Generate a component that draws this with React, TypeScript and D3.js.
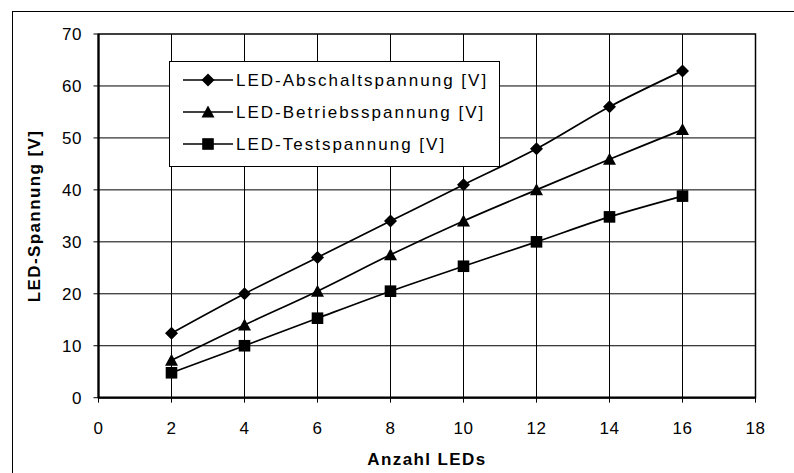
import React from 'react';
import * as d3 from 'd3';

const anzahl = [2, 4, 6, 8, 10, 12, 14, 16];
const abschalt = [12.4, 20, 27, 34, 41, 47.9, 56, 62.9];
const betrieb = [7.2, 14, 20.5, 27.5, 34, 40, 45.9, 51.6];
const test = [4.8, 10, 15.3, 20.5, 25.3, 30, 34.8, 38.8];
const seriesNames = ['LED-Abschaltspannung [V]', 'LED-Betriebsspannung [V]', 'LED-Testspannung [V]'];
const xTicks = [0, 2, 4, 6, 8, 10, 12, 14, 16, 18];
const yTicks = [0, 10, 20, 30, 40, 50, 60, 70];

const W = 794;
const H = 473;
const margin = { left: 98.5, right: 38.5, top: 34, bottom: 75.3 };
const font = 'Liberation Sans, Arial, sans-serif';

function Marker({ kind, x, y }: { kind: number; x: number; y: number }) {
  if (kind === 0) {
    const r = 6.5;
    return <path d={`M${x},${y - r}L${x + r},${y}L${x},${y + r}L${x - r},${y}Z`} fill="#000" />;
  }
  if (kind === 1) {
    return <path d={`M${x},${y - 6.5}L${x + 6.5},${y + 5.5}L${x - 6.5},${y + 5.5}Z`} fill="#000" />;
  }
  return <rect x={x - 5.8} y={y - 5.8} width={11.6} height={11.6} fill="#000" />;
}

export default function App() {
  const x = d3.scaleLinear().domain([0, 18]).range([margin.left, W - margin.right]);
  const y = d3.scaleLinear().domain([0, 70]).range([H - margin.bottom, margin.top]);
  const all = [abschalt, betrieb, test];

  const line = d3.line<number>()
    .x((_, i) => x(anzahl[i]))
    .y(d => y(d))
    .curve(d3.curveCatmullRom.alpha(0.5));

  const x0 = x(0), x1 = x(18), y0 = y(0), y1 = y(70);

  return (
    <svg width={W} height={H} style={{ position: 'absolute', left: 0, top: 0, background: '#fff' }} fontFamily={font}>
      <rect x={12.5} y={11.5} width={900} height={600} fill="#fff" stroke="#000" strokeWidth={1} />

      {/* grid */}
      {xTicks.slice(1, -1).map(t => (
        <line key={'gx' + t} x1={x(t)} x2={x(t)} y1={y1} y2={y0} stroke="#000" strokeWidth={1} />
      ))}
      {yTicks.slice(1, -1).map(t => (
        <line key={'gy' + t} x1={x0} x2={x1} y1={y(t)} y2={y(t)} stroke="#000" strokeWidth={1} />
      ))}
      <rect x={x0} y={y1} width={x1 - x0} height={y0 - y1} fill="none" stroke="#000" strokeWidth={1.5} />
      <line x1={x0} x2={x0} y1={y1} y2={y0} stroke="#000" strokeWidth={2.2} />
      <line x1={x0} x2={x1} y1={y0} y2={y0} stroke="#000" strokeWidth={2.2} />

      {/* ticks */}
      {xTicks.map(t => (
        <g key={'tx' + t}>
          <line x1={x(t)} x2={x(t)} y1={y0} y2={y0 + 5} stroke="#000" />
          <text x={x(t)} y={y0 + 36} textAnchor="middle" fontSize={17} letterSpacing={0.6}>{t}</text>
        </g>
      ))}
      {yTicks.map(t => (
        <g key={'ty' + t}>
          <line x1={x0 - 5} x2={x0} y1={y(t)} y2={y(t)} stroke="#000" />
          <text x={x0 - 16.5} y={y(t) + 6} textAnchor="end" fontSize={17} letterSpacing={0.6}>{t}</text>
        </g>
      ))}

      {/* series */}
      {all.map((s, k) => (
        <g key={'s' + k}>
          <path d={line(s) || ''} fill="none" stroke="#000" strokeWidth={1.7} />
          {s.map((v, i) => <Marker key={i} kind={k} x={x(anzahl[i])} y={y(v)} />)}
        </g>
      ))}

      {/* axis titles */}
      <text x={427} y={465} textAnchor="middle" fontSize={17} fontWeight="bold" letterSpacing={1.4}>Anzahl LEDs</text>
      <text transform={`translate(40,216) rotate(-90)`} textAnchor="middle" fontSize={17} fontWeight="bold" letterSpacing={1.4}>LED-Spannung [V]</text>

      {/* legend */}
      <rect x={169.5} y={61.5} width={330} height={105} fill="#fff" stroke="#000" strokeWidth={1} />
      {seriesNames.map((n, k) => {
        const ly = 80 + k * 32;
        return (
          <g key={'l' + k}>
            <line x1={183} x2={233} y1={ly} y2={ly} stroke="#000" strokeWidth={1.7} />
            <Marker kind={k} x={208} y={ly} />
            <text x={236} y={ly + 6} fontSize={17} letterSpacing={2}>{n}</text>
          </g>
        );
      })}
    </svg>
  );
}
